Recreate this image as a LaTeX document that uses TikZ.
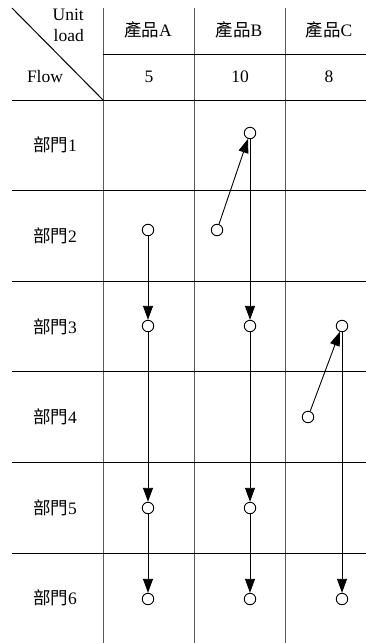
\documentclass[tikz,border=0pt]{standalone}
\usepackage{fontspec}
\setmainfont{Liberation Serif}
\newfontfamily\cjk{Noto Sans CJK TC}
\usetikzlibrary{arrows.meta}
\begin{document}
\begin{tikzpicture}[x=1pt,y=-1pt,
  vgrid/.style={line width=1pt, draw=black!65},
  hgrid/.style={line width=1pt, draw=black},
  station/.style={circle, draw, fill=white, minimum size=11.5pt, inner sep=0pt, line width=0.9pt},
  flow/.style={line width=0.9pt, -{Triangle[length=14pt,width=10pt]}},
  lbl/.style={font=\fontsize{17.5}{20}\selectfont, inner sep=0pt}]
\useasboundingbox (0,0) rectangle (366,643);
% grid
\draw[vgrid] (103,8) -- (103,643);
\draw[vgrid] (194,8) -- (194,643);
\draw[vgrid] (285,8) -- (285,643);
\draw[hgrid] (103,54) -- (366,54);
\foreach \yy in {100,190.6,281.2,371.8,462.4,553} {\draw[hgrid] (12,\yy) -- (366,\yy);}
\draw[hgrid] (12,8) -- (103,100);
% header text
\node[lbl, anchor=east] (tunit) at (84,15) {Unit};
\node[lbl, anchor=east] (tload) at (84,36) {load};
\node[lbl] (tflow) at (45,77) {Flow};
\node[lbl] (hA) at (148,30) {{\cjk 產品}A};
\node[lbl] (hB) at (239,30) {{\cjk 產品}B};
\node[lbl] (hC) at (329,30) {{\cjk 產品}C};
\node[lbl] (fA) at (149,77) {5};
\node[lbl] (fB) at (240,77) {10};
\node[lbl] (fC) at (329,77) {8};
% row labels
\node[lbl] (r1) at (55,145) {{\cjk 部門}1};
\node[lbl] (r2) at (55,236) {{\cjk 部門}2};
\node[lbl] (r3) at (55,327) {{\cjk 部門}3};
\node[lbl] (r4) at (55,417) {{\cjk 部門}4};
\node[lbl] (r5) at (55,508) {{\cjk 部門}5};
\node[lbl] (r6) at (55,598) {{\cjk 部門}6};
% stations
\node[station] (A2) at (148,230) {};
\node[station] (A3) at (148,326) {};
\node[station] (A5) at (148,508) {};
\node[station] (A6) at (148,599) {};
\node[station] (B1) at (250,133) {};
\node[station] (B2) at (217,230) {};
\node[station] (B3) at (250,326) {};
\node[station] (B5) at (250,508) {};
\node[station] (B6) at (250,599) {};
\node[station] (C3) at (342,326) {};
\node[station] (C4) at (308,417) {};
\node[station] (C6) at (342,599) {};
% flows
\draw[flow] (A2) -- (A3);
\draw[flow] (A3) -- (A5);
\draw[flow] (A5) -- (A6);
\draw[flow] (B2) -- (B1);
\draw[flow] (B1) -- (B3);
\draw[flow] (B3) -- (B5);
\draw[flow] (B5) -- (B6);
\draw[flow] (C4) -- (C3);
\draw[flow] (C3) -- (C6);
\end{tikzpicture}
\end{document}
